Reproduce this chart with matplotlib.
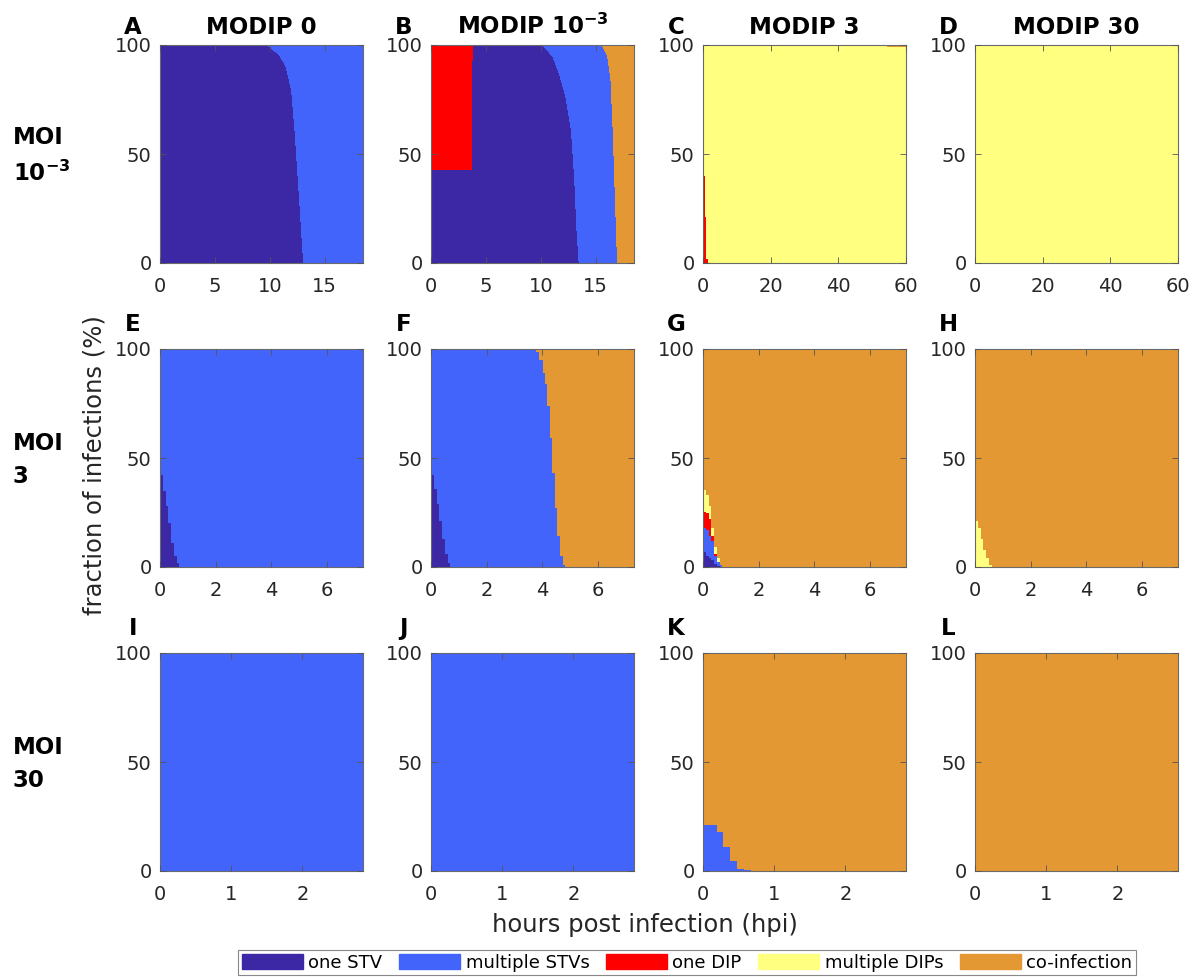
import matplotlib
matplotlib.use("Agg")
import matplotlib.pyplot as plt
from matplotlib.patches import Patch

# ---------------- data ----------------
categories = ["one STV", "multiple STVs", "one DIP", "multiple DIPs", "co-infection"]
colors = ["#3C27A5", "#4264FB", "#FF0000", "#FFFF80", "#E49834"]

col_titles = [r"MODIP 0", r"MODIP $\mathbf{10^{-3}}$", r"MODIP 3", r"MODIP 30"]
row_titles = ["MOI\n" + r"$\mathbf{10^{-3}}$", "MOI\n3", "MOI\n30"]
panel_letters = ["A", "B", "C", "D", "E", "F", "G", "H", "I", "J", "K", "L"]

xmax_rows = [[18.5, 18.5, 60, 60], [7.3, 7.3, 7.3, 7.3], [2.85, 2.85, 2.85, 2.85]]
xticks_rows = [[[0, 5, 10, 15], [0, 5, 10, 15], [0, 20, 40, 60], [0, 20, 40, 60]],
               [[0, 2, 4, 6]] * 4,
               [[0, 1, 2]] * 4]
yticks = [0, 50, 100]

# Panel A (MOI 1e-3, MODIP 0)
t_A = [0, 9.8, 10.9, 11.5, 12.0, 12.3, 12.6, 12.8, 13.0, 13.1, 18.5]
one_stv_A = [100, 100, 95.4, 90, 79, 61, 38, 23, 7, 0, 0]
multi_stv_A = [0, 0, 4.6, 10, 21, 39, 62, 77, 93, 100, 100]

# Panel B (MOI 1e-3, MODIP 1e-3)
t_B = [0, 3.65, 3.75, 10.2, 11.1, 11.7, 12.3, 12.8, 13.1, 13.3, 13.5,
       15.6, 16.1, 16.4, 16.6, 16.8, 17.0, 18.5]
one_stv_B = [43, 43, 100, 100, 94.8, 87, 76, 61, 38, 15, 0, 0, 0, 0, 0, 0, 0, 0]
multi_stv_B = [0, 0, 0, 0, 5.2, 13, 24, 39, 62, 85, 100, 100, 95, 84, 61, 30, 0, 0]
one_dip_B = [57, 57, 0, 0, 0, 0, 0, 0, 0, 0, 0, 0, 0, 0, 0, 0, 0, 0]
coinf_B = [0, 0, 0, 0, 0, 0, 0, 0, 0, 0, 0, 0, 5, 16, 39, 70, 100, 100]

# Panel C (MOI 1e-3, MODIP 3)
t_C = [0, 0.6, 1.0, 1.5, 54.5, 60]
one_dip_C = [40, 21, 2, 0, 0, 0]
multi_dip_C = [60, 79, 98, 100, 99, 99]
coinf_C = [0, 0, 0, 0, 1, 1]

# Panel D (MOI 1e-3, MODIP 30)
t_D = [0, 60]
multi_dip_D = [100, 100]

# Panel E (MOI 3, MODIP 0)
t_E = [0, 0.1, 0.2, 0.3, 0.4, 0.5, 0.6, 0.7, 7.3]
one_stv_E = [42, 35, 28, 20, 11, 5, 2, 0, 0]
multi_stv_E = [58, 65, 72, 80, 89, 95, 98, 100, 100]

# Panel F (MOI 3, MODIP 1e-3)
t_F = [0, 0.1, 0.2, 0.3, 0.4, 0.5, 0.6, 0.7, 3.6, 3.78, 3.9, 4.02, 4.1, 4.18,
       4.27, 4.35, 4.45, 4.53, 4.63, 4.75, 4.81, 7.3]
one_stv_F = [42, 36, 29, 21, 13, 6, 2, 0, 0, 0, 0, 0, 0, 0, 0, 0, 0, 0, 0, 0, 0, 0]
multi_stv_F = [58, 64, 71, 79, 87, 94, 98, 100, 99.5, 98.8, 95, 89, 84, 74,
               59, 43, 27, 14, 5, 1, 0, 0]
coinf_F = [0, 0, 0, 0, 0, 0, 0, 0, 0.5, 1.2, 5, 11, 16, 26, 41, 57, 73, 86, 95, 99, 100, 100]

# Panel G (MOI 3, MODIP 3)
t_G = [0, 0.1, 0.2, 0.3, 0.4, 0.5, 0.6, 0.7, 7.3]
one_stv_G = [7, 5, 4, 3, 1.5, 0.5, 0, 0, 0]
multi_stv_G = [10.7, 12, 10, 9, 3.5, 2, 1, 0, 0]
one_dip_G = [7.6, 8, 8, 2, 1, 0, 0, 0, 0]
multi_dip_G = [10, 8, 6, 4, 3, 1.5, 0, 0, 0]
coinf_G = [64.7, 67, 72, 82, 91, 96, 99, 100, 100]

# Panel H (MOI 3, MODIP 30)
t_H = [0, 0.1, 0.2, 0.3, 0.4, 0.5, 0.6, 7.3]
multi_dip_H = [21, 18, 13, 8, 4, 1, 0, 0]
coinf_H = [79, 82, 87, 92, 96, 99, 100, 100]

# Panel I, J (MOI 30, MODIP 0 / 1e-3)
t_I = [0, 2.85]
multi_stv_I = [100, 100]
t_J = [0, 2.85]
multi_stv_J = [100, 100]

# Panel K (MOI 30, MODIP 3)
t_K = [0, 0.2, 0.28, 0.38, 0.48, 0.57, 0.67, 2.85]
multi_stv_K = [21, 18, 11, 4.6, 1, 0.3, 0, 0]
coinf_K = [79, 82, 89, 95.4, 99, 99.7, 100, 100]

# Panel L (MOI 30, MODIP 30)
t_L = [0, 2.85]
coinf_L = [100, 100]

def full(t, **series):
    z = [0] * len(t)
    return [series.get(k, z) for k in ("s1", "s2", "d1", "d2", "co")]

panels = [
    (t_A, full(t_A, s1=one_stv_A, s2=multi_stv_A), None),
    (t_B, full(t_B, s1=one_stv_B, s2=multi_stv_B, d1=one_dip_B, co=coinf_B), None),
    (t_C, full(t_C, d1=one_dip_C, d2=multi_dip_C, co=coinf_C), "post"),
    (t_D, full(t_D, d2=multi_dip_D), "post"),
    (t_E, full(t_E, s1=one_stv_E, s2=multi_stv_E), "post"),
    (t_F, full(t_F, s1=one_stv_F, s2=multi_stv_F, co=coinf_F), "post"),
    (t_G, full(t_G, s1=one_stv_G, s2=multi_stv_G, d1=one_dip_G, d2=multi_dip_G, co=coinf_G), "post"),
    (t_H, full(t_H, d2=multi_dip_H, co=coinf_H), "post"),
    (t_I, full(t_I, s2=multi_stv_I), "post"),
    (t_J, full(t_J, s2=multi_stv_J), "post"),
    (t_K, full(t_K, s2=multi_stv_K, co=coinf_K), "post"),
    (t_L, full(t_L, co=coinf_L), "post"),
]

# ---------------- layout ----------------
W, H = 1197, 977
fig = plt.figure(figsize=(W / 100, H / 100), dpi=100)
col_left = [160, 431, 703, 975]
row_top = [45, 349, 653]
aw, ah = 203, 218
tc = "#262626"

for r in range(3):
    for c in range(4):
        i = r * 4 + c
        l, t = col_left[c], row_top[r]
        ax = fig.add_axes([l / W, 1 - (t + ah) / H, aw / W, ah / H])
        tt, ys, step = panels[i]
        kw = {"step": step} if step else {}
        ax.stackplot(tt, *ys, colors=colors, linewidth=0, antialiased=False, **kw)
        ax.set_xlim(0, xmax_rows[r][c])
        ax.set_ylim(0, 100)
        ax.set_xticks(xticks_rows[r][c])
        ax.set_yticks(yticks)
        ax.tick_params(axis="x", pad=10)
        ax.tick_params(axis="y", pad=6)
        ax.tick_params(direction="in", top=True, right=True, length=4, width=0.6,
                       colors="#555555", labelcolor=tc, labelsize=14)
        for sp in ax.spines.values():
            sp.set_color("#6a6a6a")
            sp.set_linewidth(0.8)
        ax.set_axisbelow(False)
        base = 34 if r == 0 else t - 18
        fig.text((l - 27) / W, 1 - base / H, panel_letters[i], fontsize=16.5,
                 fontweight="bold", ha="center", va="baseline")

for c in range(4):
    fig.text((col_left[c] + aw / 2) / W, 1 - 34 / H, col_titles[c], fontsize=16.5,
             fontweight="bold", ha="center", va="baseline")

for r in range(3):
    fig.text(13 / W, 1 - (row_top[r] + ah / 2 + 2) / H, row_titles[r], fontsize=16.5,
             fontweight="bold", ha="left", va="center", linespacing=1.6)

fig.text(95 / W, 1 - 465 / H, "fraction of infections (%)", fontsize=17.5,
         rotation=90, ha="center", va="center", color=tc)
fig.text(645 / W, 1 - 925 / H, "hours post infection (hpi)", fontsize=17.5,
         ha="center", va="center", color=tc)

handles = [Patch(facecolor=col, edgecolor=col) for col in colors]
leg = fig.legend(handles, categories, loc="upper center",
                 bbox_to_anchor=(687 / W, 1 - 950 / H), ncol=5, fontsize=13,
                 handlelength=3.4, handleheight=0.9, handletextpad=0.3,
                 columnspacing=0.9, borderpad=0.2, borderaxespad=0,
                 fancybox=False, edgecolor="#888888", framealpha=1)
leg.get_frame().set_linewidth(0.8)

fig.savefig("out.png", dpi=100)
